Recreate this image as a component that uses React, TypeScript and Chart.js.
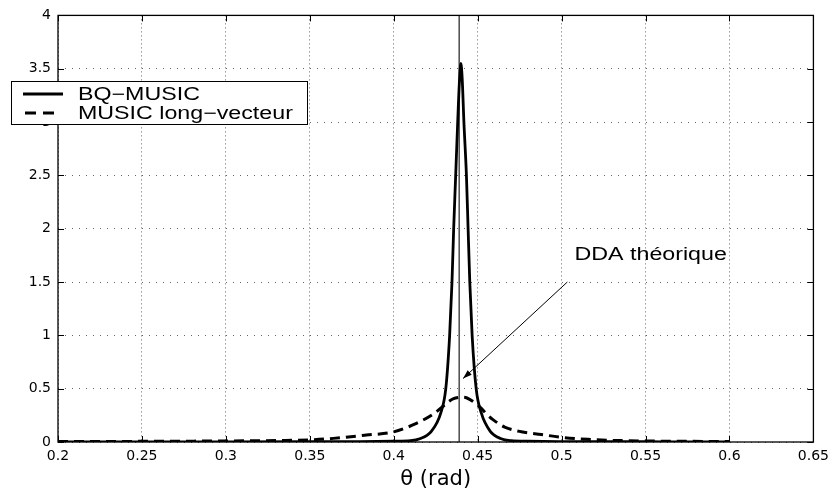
import React, { useEffect, useRef } from "react";
import { Chart, registerables } from "chart.js";

Chart.register(...registerables);

// ---- Axis ticks ----
const X_TICKS = [0.2, 0.25, 0.3, 0.35, 0.4, 0.45, 0.5, 0.55, 0.6, 0.65];
const X_TICK_LABELS = ["0.2", "0.25", "0.3", "0.35", "0.4", "0.45", "0.5", "0.55", "0.6", "0.65"];
const Y_TICKS = [0, 0.5, 1, 1.5, 2, 2.5, 3, 3.5, 4];
const Y_TICK_LABELS = ["0", "0.5", "1", "1.5", "2", "2.5", "3", "3.5", "4"];
const X_TITLE = "θ (rad)";

// ---- Series: BQ-MUSIC (solid) ----
const BQ_THETA = [
  0.2, 0.25, 0.3, 0.35, 0.38, 0.4, 0.41, 0.4155, 0.4224, 0.428, 0.431, 0.4333, 0.4347, 0.4357,
  0.4369, 0.4381, 0.4392, 0.44, 0.4408, 0.4418, 0.4433, 0.4443, 0.4453, 0.4467, 0.4491, 0.4522,
  0.4575, 0.464, 0.47, 0.48, 0.5, 0.53, 0.56, 0.6,
];
const BQ_VALUES = [
  0.001, 0.001, 0.002, 0.003, 0.004, 0.007, 0.012, 0.03, 0.1, 0.27, 0.5, 1.0, 1.5, 2.0,
  2.5, 3.0, 3.4, 3.55, 3.4, 3.0, 2.5, 2.0, 1.5, 1.0, 0.5, 0.27,
  0.1, 0.03, 0.012, 0.007, 0.004, 0.003, 0.002, 0.001,
];

// ---- Series: MUSIC long-vecteur (dashed) ----
const LV_THETA = [
  0.2, 0.25, 0.3, 0.33, 0.35, 0.364, 0.3837, 0.4, 0.4135, 0.4234, 0.4333, 0.4353, 0.441, 0.4433,
  0.4512, 0.4561, 0.4591, 0.4661, 0.476, 0.4879, 0.5, 0.5157, 0.5355, 0.56, 0.6,
];
const LV_VALUES = [
  0.004, 0.006, 0.01, 0.014, 0.02, 0.034, 0.065, 0.095, 0.175, 0.26, 0.385, 0.405, 0.42, 0.415,
  0.33, 0.25, 0.21, 0.14, 0.096, 0.07, 0.044, 0.025, 0.013, 0.008, 0.004,
];

// ---- Theoretical DOA marker + annotation ----
const DDA_THETA = 0.439;
const DDA_LINE_Y = [0, 4];
const ANNOT_TEXT = "DDA théorique";
const ANNOT_TEXT_POS = [0.5077, 1.71];
const ARROW_FROM = [0.5034, 1.5];
const ARROW_TO = [0.4413, 0.595];

const SERIES_LABELS = ["BQ−MUSIC", "MUSIC long−vecteur"];

const TEXT_STRETCH = 1.29;
const TEXT_FONT = '18px "Liberation Sans", Arial, Helvetica, sans-serif';

const overlayPlugin = {
  id: "overlay",
  afterDatasetsDraw(chart: any) {
    const { ctx, chartArea: a, scales } = chart;
    const xs = scales.x;
    const ys = scales.y;
    ctx.save();
    // frame
    ctx.strokeStyle = "#000";
    ctx.lineWidth = 1.3;
    ctx.setLineDash([]);
    ctx.strokeRect(a.left, a.top, a.right - a.left, a.bottom - a.top);
    // inward tick marks on all sides
    ctx.lineWidth = 1;
    ctx.beginPath();
    X_TICKS.forEach((v) => {
      const px = Math.round(xs.getPixelForValue(v)) + 0.5;
      ctx.moveTo(px, a.bottom);
      ctx.lineTo(px, a.bottom - 6);
      ctx.moveTo(px, a.top);
      ctx.lineTo(px, a.top + 6);
    });
    Y_TICKS.forEach((v) => {
      const py = Math.round(ys.getPixelForValue(v)) + 0.5;
      ctx.moveTo(a.left, py);
      ctx.lineTo(a.left + 6, py);
      ctx.moveTo(a.right, py);
      ctx.lineTo(a.right - 6, py);
    });
    ctx.stroke();

    // arrow
    const x1 = xs.getPixelForValue(ARROW_FROM[0]);
    const y1 = ys.getPixelForValue(ARROW_FROM[1]);
    const x2 = xs.getPixelForValue(ARROW_TO[0]);
    const y2 = ys.getPixelForValue(ARROW_TO[1]);
    ctx.lineWidth = 1;
    ctx.beginPath();
    ctx.moveTo(x1, y1);
    ctx.lineTo(x2, y2);
    ctx.stroke();
    const ang = Math.atan2(y2 - y1, x2 - x1);
    const hl = 9;
    const hw = 3;
    ctx.beginPath();
    ctx.moveTo(x2, y2);
    ctx.lineTo(
      x2 - hl * Math.cos(ang) + hw * Math.sin(ang),
      y2 - hl * Math.sin(ang) - hw * Math.cos(ang)
    );
    ctx.lineTo(
      x2 - hl * Math.cos(ang) - hw * Math.sin(ang),
      y2 - hl * Math.sin(ang) + hw * Math.cos(ang)
    );
    ctx.closePath();
    ctx.fillStyle = "#000";
    ctx.fill();

    // annotation text
    ctx.font = TEXT_FONT;
    ctx.textBaseline = "alphabetic";
    ctx.textAlign = "left";
    ctx.translate(xs.getPixelForValue(ANNOT_TEXT_POS[0]), ys.getPixelForValue(ANNOT_TEXT_POS[1]));
    ctx.scale(TEXT_STRETCH, 1);
    ctx.fillText(ANNOT_TEXT, 0, 0);
    ctx.restore();
  },
  afterDraw(chart: any) {
    const { ctx } = chart;
    ctx.save();
    // legend box
    ctx.fillStyle = "#fff";
    ctx.fillRect(11, 81, 296, 43);
    ctx.strokeStyle = "#000";
    ctx.lineWidth = 1;
    ctx.strokeRect(11.5, 81.5, 296, 43);
    // samples
    ctx.lineWidth = 2.8;
    ctx.beginPath();
    ctx.moveTo(23, 94);
    ctx.lineTo(63, 94);
    ctx.stroke();
    ctx.setLineDash([11, 7]);
    ctx.beginPath();
    ctx.moveTo(25, 113);
    ctx.lineTo(55, 113);
    ctx.stroke();
    ctx.setLineDash([]);
    ctx.fillStyle = "#000";
    ctx.font = TEXT_FONT;
    ctx.textBaseline = "alphabetic";
    ctx.textAlign = "left";
    const baselines = [100, 118.5];
    SERIES_LABELS.forEach((t, i) => {
      ctx.save();
      ctx.translate(78, baselines[i]);
      ctx.scale(TEXT_STRETCH, 1);
      ctx.fillText(t, 0, 0);
      ctx.restore();
    });
    ctx.restore();
  },
};

export default function App() {
  const canvasRef = useRef<HTMLCanvasElement | null>(null);

  useEffect(() => {
    const canvas = canvasRef.current;
    if (!canvas) return;
    const bq = BQ_THETA.map((x, i) => ({ x, y: BQ_VALUES[i] }));
    const lv = LV_THETA.map((x, i) => ({ x, y: LV_VALUES[i] }));
    const dda = DDA_LINE_Y.map((y) => ({ x: DDA_THETA, y }));

    const chart = new Chart(canvas, {
      type: "line",
      data: {
        datasets: [
          {
            label: SERIES_LABELS[0],
            data: bq,
            borderColor: "#000",
            borderWidth: 2.8,
            pointRadius: 0,
            cubicInterpolationMode: "monotone",
            fill: false,
            order: 1,
          },
          {
            label: SERIES_LABELS[1],
            data: lv,
            borderColor: "#000",
            borderWidth: 3,
            borderDash: [10, 6],
            pointRadius: 0,
            cubicInterpolationMode: "monotone",
            fill: false,
            order: 2,
          },
          {
            label: "DDA",
            data: dda,
            borderColor: "#555",
            borderWidth: 1.6,
            pointRadius: 0,
            fill: false,
            order: 3,
          },
        ],
      },
      options: {
        responsive: false,
        animation: false,
        devicePixelRatio: 1,
        layout: { padding: { top: 14, right: 21, left: 0, bottom: 0 } },
        plugins: {
          legend: { display: false },
          tooltip: { enabled: false },
        },
        scales: {
          x: {
            type: "linear",
            min: 0.2,
            max: 0.65,
            afterBuildTicks: (scale: any) => {
              scale.ticks = X_TICKS.map((v) => ({ value: v }));
            },
            afterFit: (scale: any) => {
              scale.height = 53;
            },
            ticks: {
              autoSkip: false,
              maxRotation: 0,
              padding: 6,
              color: "#000",
              font: { family: '"DejaVu Sans", sans-serif', size: 14 },
              callback: (_v: any, i: number) => X_TICK_LABELS[i],
            },
            grid: {
              color: "#666",
              lineWidth: 1,
              drawTicks: false,
            },
            border: { display: false, dash: [1, 3] },
            title: {
              display: true,
              text: X_TITLE,
              color: "#000",
              font: { family: '"DejaVu Sans", sans-serif', size: 21 },
              padding: { top: 0, bottom: 3 },
            },
          },
          y: {
            type: "linear",
            min: 0,
            max: 4,
            afterBuildTicks: (scale: any) => {
              scale.ticks = Y_TICKS.map((v) => ({ value: v }));
            },
            afterFit: (scale: any) => {
              scale.width = 58;
            },
            ticks: {
              autoSkip: false,
              padding: 7,
              color: "#000",
              font: { family: '"DejaVu Sans", sans-serif', size: 14 },
              callback: (_v: any, i: number) => Y_TICK_LABELS[i],
            },
            grid: {
              color: "#666",
              lineWidth: 1,
              drawTicks: false,
            },
            border: { display: false, dash: [1, 6] },
          },
        },
      },
      plugins: [overlayPlugin],
    } as any);

    return () => {
      chart.destroy();
    };
  }, []);

  return (
    <div style={{ position: "fixed", left: 0, top: 0, width: 835, height: 495, background: "#fff" }}>
      <canvas ref={canvasRef} width={835} height={495} style={{ display: "block" }} />
    </div>
  );
}
